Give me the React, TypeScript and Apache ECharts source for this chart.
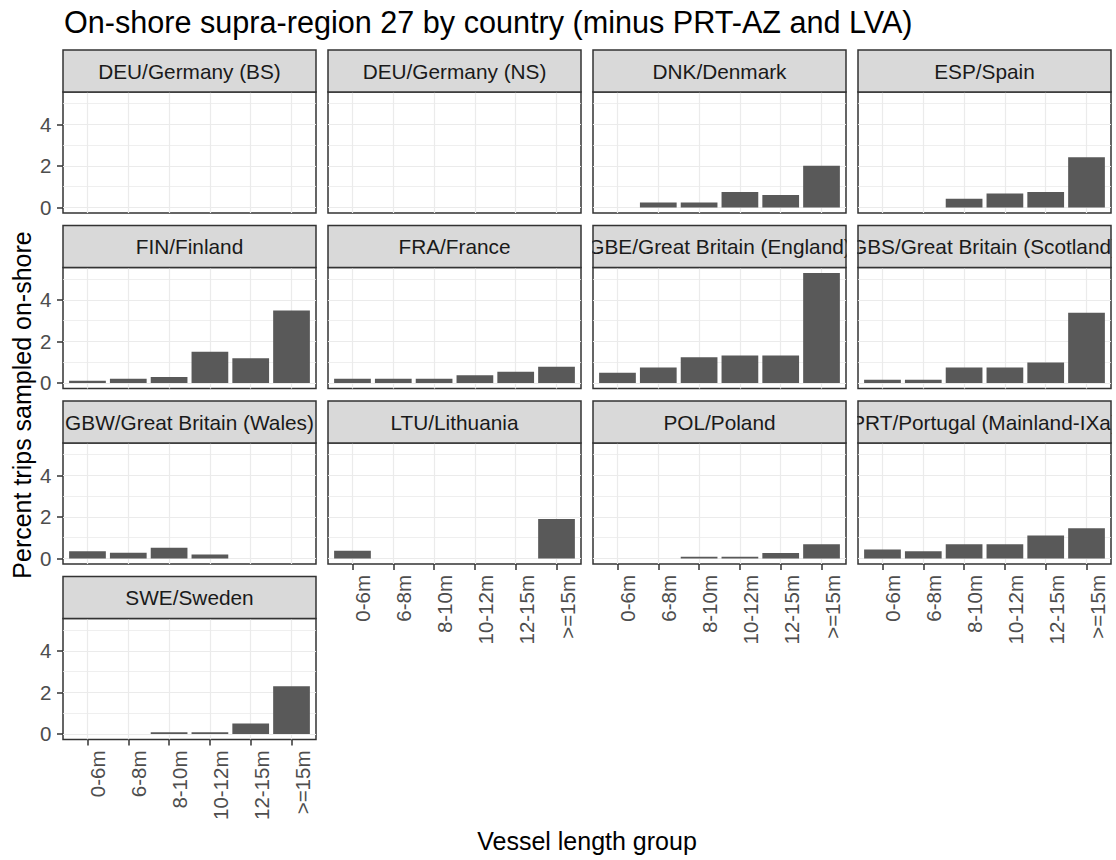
import { useEffect, useRef } from "react";
import * as echarts from "echarts";

// ---------- data ----------
const categories = ["0-6m", "6-8m", "8-10m", "10-12m", "12-15m", ">=15m"];

const panelTitles = [
  "DEU/Germany (BS)",
  "DEU/Germany (NS)",
  "DNK/Denmark",
  "ESP/Spain",
  "FIN/Finland",
  "FRA/France",
  "GBE/Great Britain (England)",
  "GBS/Great Britain (Scotland)",
  "GBW/Great Britain (Wales)",
  "LTU/Lithuania",
  "POL/Poland",
  "PRT/Portugal (Mainland-IXa)",
  "SWE/Sweden",
];

const deuBS: (number | null)[] = [null, null, null, null, null, null];
const deuNS: (number | null)[] = [null, null, null, null, null, null];
const dnk: (number | null)[] = [null, 0.24, 0.24, 0.75, 0.6, 2.0];
const esp: (number | null)[] = [null, null, 0.42, 0.67, 0.75, 2.42];
const fin: (number | null)[] = [0.11, 0.2, 0.29, 1.5, 1.19, 3.48];
const fra: (number | null)[] = [0.2, 0.2, 0.2, 0.37, 0.54, 0.78];
const gbe: (number | null)[] = [0.49, 0.75, 1.24, 1.32, 1.32, 5.28];
const gbs: (number | null)[] = [0.16, 0.16, 0.75, 0.75, 0.98, 3.37];
const gbw: (number | null)[] = [0.35, 0.27, 0.51, 0.19, null, null];
const ltu: (number | null)[] = [0.37, null, null, null, null, 1.9];
const pol: (number | null)[] = [null, null, 0.08, 0.08, 0.26, 0.68];
const prt: (number | null)[] = [0.43, 0.35, 0.68, 0.68, 1.1, 1.45];
const swe: (number | null)[] = [null, null, 0.08, 0.08, 0.5, 2.3];

const panelValues = [deuBS, deuNS, dnk, esp, fin, fra, gbe, gbs, gbw, ltu, pol, prt, swe];

const yMajorTicks = [0, 2, 4];
const yMinorTicks = [1, 3, 5];
const xTickValues = [1, 2, 3, 4, 5, 6];

const chartTitle = "On-shore supra-region 27 by country (minus PRT-AZ and LVA)";
const xTitle = "Vessel length group";
const yTitle = "Percent trips sampled on-shore";

// ---------- layout ----------
const W = 1116;
const H = 860;
const NCOL = 4;
const COL_X = [63, 328, 593, 858];
const ROW_TOP = [92, 267.5, 443, 618.5];
const PANEL_W = 253;
const PANEL_H = 121;
const STRIP_H = 42;
const Y_MIN = -0.265;
const Y_MAX = 5.55;
const X_MIN = 0.4;
const X_MAX = 6.6;
const FONT = "'Liberation Sans', Arial, sans-serif";
const TICK_FS = 20.5;
const STRIP_FS = 20.8;

export default function App() {
  const ref = useRef<HTMLDivElement>(null);

  useEffect(() => {
    if (!ref.current) return;
    const chart = echarts.init(ref.current, undefined, { renderer: "svg" });
    const n = panelTitles.length;

    const grids: any[] = [];
    const xAxes: any[] = [];
    const yAxes: any[] = [];
    const series: any[] = [];
    const graphics: any[] = [];

    for (let i = 0; i < n; i++) {
      const col = i % NCOL;
      const row = Math.floor(i / NCOL);
      const left = COL_X[col];
      const top = ROW_TOP[row];
      const showX = i + NCOL >= n;
      const showY = col === 0;

      grids.push({
        left,
        top,
        width: PANEL_W,
        height: PANEL_H,
        show: true,
        backgroundColor: "#ffffff",
        borderColor: "#333333",
        borderWidth: 1.5,
        containLabel: false,
        outerBoundsMode: "none",
      });

      xAxes.push({
        type: "value",
        gridIndex: i,
        min: X_MIN,
        max: X_MAX,
        splitNumber: 6,
        axisLine: { show: false, onZero: false },
        axisTick: {
          show: showX,
          customValues: xTickValues,
          length: 6,
          lineStyle: { color: "#333333", width: 1.5 },
        },
        axisLabel: {
          show: showX,
          customValues: xTickValues,
          formatter: (v: number) => categories[Math.round(v) - 1] ?? "",
          rotate: 90,
          verticalAlign: "top",
          margin: 11,
          fontSize: TICK_FS,
          color: "#4d4d4d",
          fontFamily: FONT,
        },
        splitLine: { show: true, lineStyle: { color: "#ebebeb", width: 1.2 } },
      });

      yAxes.push({
        type: "value",
        gridIndex: i,
        min: Y_MIN,
        max: Y_MAX,
        axisLine: { show: false, onZero: false },
        axisTick: {
          show: showY,
          customValues: yMajorTicks,
          length: 6,
          lineStyle: { color: "#333333", width: 1.5 },
        },
        axisLabel: {
          show: showY,
          customValues: yMajorTicks,
          margin: 11.5,
          fontSize: TICK_FS,
          color: "#4d4d4d",
          fontFamily: FONT,
        },
        splitLine: { show: true, lineStyle: { color: "#ebebeb", width: 1.2 } },
      });
      yAxes.push({
        type: "value",
        gridIndex: i,
        min: Y_MIN,
        max: Y_MAX,
        axisLine: { show: false, onZero: false },
        axisTick: { show: false, customValues: yMinorTicks },
        axisLabel: { show: false },
        splitLine: { show: true, lineStyle: { color: "#ebebeb", width: 0.8 } },
      });

      series.push({
        type: "bar",
        xAxisIndex: i,
        yAxisIndex: 2 * i,
        data: panelValues[i].map((v, k) => [k + 1, v == null ? "-" : v]),
        barWidth: (PANEL_W / (X_MAX - X_MIN)) * 0.9,
        itemStyle: { color: "#595959" },
        silent: true,
      });

      // strip background + text
      graphics.push({
        type: "rect",
        shape: { x: left, y: top - STRIP_H, width: PANEL_W, height: STRIP_H },
        style: { fill: "#d9d9d9" },
        z: 10,
        silent: true,
      });
      graphics.push({
        type: "text",
        x: left + PANEL_W / 2,
        y: top - STRIP_H / 2,
        style: {
          text: panelTitles[i],
          textAlign: "center",
          textVerticalAlign: "middle",
          fontSize: STRIP_FS,
          fontFamily: FONT,
          fill: "#1a1a1a",
        },
        z: 11,
        silent: true,
      });
    }

    // white covers to clip strip text overflow between columns
    const rowsUsed = Math.ceil(n / NCOL);
    for (let r = 0; r < rowsUsed; r++) {
      const y0 = ROW_TOP[r] - STRIP_H - 2;
      const edges = [0, ...COL_X.map((x) => x), W];
      // gaps: [0, COL_X[0]], [COL_X[c]+PANEL_W, COL_X[c+1]], [COL_X[3]+PANEL_W, W]
      const gaps: [number, number][] = [[0, COL_X[0] - 0.75]];
      for (let c = 0; c < NCOL - 1; c++) gaps.push([COL_X[c] + PANEL_W + 0.75, COL_X[c + 1] - 0.75]);
      gaps.push([COL_X[NCOL - 1] + PANEL_W + 0.75, W]);
      void edges;
      gaps.forEach(([a, b]) => {
        graphics.push({
          type: "rect",
          shape: { x: a, y: y0, width: b - a, height: STRIP_H + 1 },
          style: { fill: "#ffffff" },
          z: 12,
          silent: true,
        });
      });
    }
    for (let i = 0; i < n; i++) {
      const col = i % NCOL;
      const row = Math.floor(i / NCOL);
      graphics.push({
        type: "rect",
        shape: { x: COL_X[col], y: ROW_TOP[row] - STRIP_H, width: PANEL_W, height: STRIP_H },
        style: { fill: "none", stroke: "#333333", lineWidth: 1.5 },
        z: 13,
        silent: true,
      });
    }

    // titles
    graphics.push({
      type: "text",
      x: 64,
      y: 22,
      style: {
        text: chartTitle,
        textAlign: "left",
        textVerticalAlign: "middle",
        fontSize: 30.6,
        fontFamily: FONT,
        fill: "#000000",
      },
      z: 14,
    });
    graphics.push({
      type: "text",
      x: (COL_X[0] + COL_X[NCOL - 1] + PANEL_W) / 2,
      y: 841,
      style: {
        text: xTitle,
        textAlign: "center",
        textVerticalAlign: "middle",
        fontSize: 25,
        fontFamily: FONT,
        fill: "#000000",
      },
      z: 14,
    });
    graphics.push({
      type: "text",
      x: 22,
      y: 405,
      rotation: Math.PI / 2,
      style: {
        text: yTitle,
        textAlign: "center",
        textVerticalAlign: "middle",
        fontSize: 25,
        fontFamily: FONT,
        fill: "#000000",
      },
      z: 14,
    });

    chart.setOption({
      animation: false,
      backgroundColor: "#ffffff",
      grid: grids,
      xAxis: xAxes,
      yAxis: yAxes,
      series,
      graphic: { elements: graphics },
    });

    return () => chart.dispose();
  }, []);

  return (
    <div
      ref={ref}
      style={{ position: "absolute", left: 0, top: 0, width: W, height: H }}
    />
  );
}
